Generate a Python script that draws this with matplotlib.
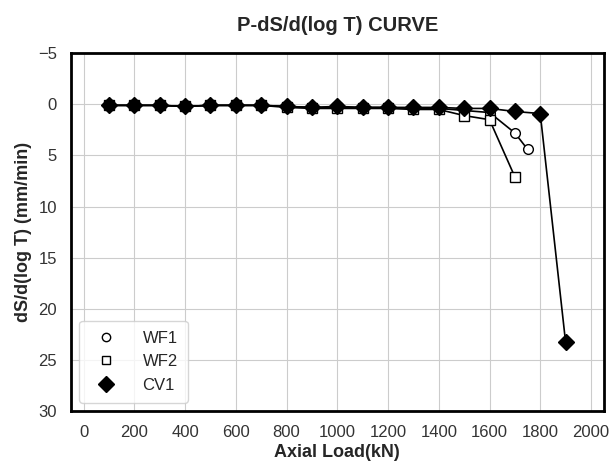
import matplotlib.pyplot as plt
from matplotlib.lines import Line2D
import seaborn as sns

sns.set_style('whitegrid')
plt.rcParams['font.family'] = ['Liberation Sans', 'DejaVu Sans']

# data
wf1_load = [100, 200, 300, 400, 500, 600, 700, 800, 900, 1000, 1100, 1200, 1300, 1400, 1500, 1600, 1700, 1750]
wf1_rate = [0.1, 0.1, 0.1, 0.2, 0.1, 0.1, 0.1, 0.2, 0.3, 0.3, 0.3, 0.3, 0.4, 0.4, 0.6, 0.8, 2.8, 4.4]

wf2_load = [100, 200, 300, 400, 500, 600, 700, 800, 900, 1000, 1100, 1200, 1300, 1400, 1500, 1600, 1700]
wf2_rate = [0.1, 0.1, 0.1, 0.2, 0.1, 0.1, 0.1, 0.3, 0.4, 0.4, 0.4, 0.4, 0.5, 0.5, 1.1, 1.5, 7.1]

cv1_load = [100, 200, 300, 400, 500, 600, 700, 800, 900, 1000, 1100, 1200, 1300, 1400, 1500, 1600, 1700, 1800, 1900]
cv1_rate = [0.1, 0.1, 0.1, 0.2, 0.1, 0.1, 0.1, 0.2, 0.3, 0.2, 0.3, 0.3, 0.3, 0.3, 0.4, 0.4, 0.7, 0.9, 23.3]

fig = plt.figure(figsize=(6.16, 4.67), dpi=100)
ax = fig.add_axes([0.115, 0.12, 0.865, 0.766])

ax.plot(wf1_load, wf1_rate, 'k-', marker='o', mfc='white', mec='black', ms=7, lw=1.2)
ax.plot(wf2_load, wf2_rate, 'k-', marker='s', mfc='white', mec='black', ms=7, lw=1.2)
ax.plot(cv1_load, cv1_rate, 'k-', marker='D', mfc='black', mec='black', ms=8.5, lw=1.2)

ax.set_xlim(-50, 2050)
ax.set_ylim(30, -5)
ax.set_xticks(range(0, 2001, 200))
ax.set_yticks(range(-5, 31, 5))
ax.tick_params(labelsize=12, colors='#333333', length=0)
ax.tick_params(axis='x', pad=10)
ax.tick_params(axis='y', pad=10)

for s in ax.spines.values():
    s.set_color('black')
    s.set_linewidth(2)

ax.set_title('P-dS/d(log T) CURVE', fontsize=14.5, fontweight='bold', pad=16)
ax.set_xlabel('Axial Load(kN)', fontsize=13, fontweight='bold', labelpad=3)
ax.set_ylabel('dS/d(log T) (mm/min)', fontsize=13, fontweight='bold', labelpad=4)

# legend shows markers only
handles = [
    Line2D([], [], ls='none', marker='o', mfc='white', mec='black', ms=6),
    Line2D([], [], ls='none', marker='s', mfc='white', mec='black', ms=6),
    Line2D([], [], ls='none', marker='D', mfc='black', mec='black', ms=8),
]
ax.legend(handles, ['WF1', 'WF2', 'CV1'], loc='lower left', fontsize=12,
          frameon=True, handletextpad=1.2, borderpad=0.6, labelspacing=0.5)

plt.savefig('out.png', dpi=100)
plt.close()
